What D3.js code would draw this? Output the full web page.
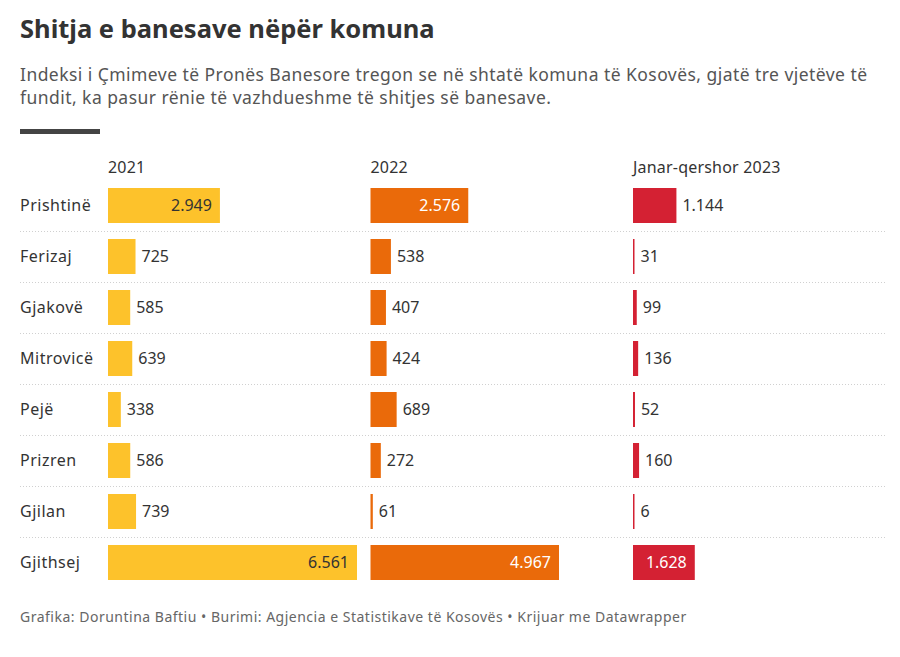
<!DOCTYPE html>
<html>
<head>
<meta charset="utf-8">
<script src="https://cdn.jsdelivr.net/npm/d3@7"></script>
<style>
    body { margin: 0; background: #fff; }
    svg { font-family: "Noto Sans", sans-serif; }
</style>
</head>
<body>
<div id="chart"></div>
<script>
// data
const komunat = ["Prishtinë", "Ferizaj", "Gjakovë", "Mitrovicë", "Pejë", "Prizren", "Gjilan", "Gjithsej"];
const periudhat = ["2021", "2022", "Janar-qershor 2023"];
const shitje2021 = [2949, 725, 585, 639, 338, 586, 739, 6561];
const shitje2022 = [2576, 538, 407, 424, 689, 272, 61, 4967];
const shitje2023 = [1144, 31, 99, 136, 52, 160, 6, 1628];
const ngjyrat = ["#fdc22b", "#ea6a0a", "#d42133"];
const ngjyraTekstit = ["#333333", "#ffffff", "#ffffff"];

const width = 900, height = 657;

const svg = d3.select('#chart')
    .append('svg')
    .attr('width', width)
    .attr('height', height);

// titles
svg.append('text')
    .attr('x', 20).attr('y', 38)
    .style('font-size', '25.5px').style('font-weight', 'bold')
    .style('fill', '#333')
    .text('Shitja e banesave nëpër komuna');

const subtitle = [
    'Indeksi i Çmimeve të Pronës Banesore tregon se në shtatë komuna të Kosovës, gjatë tre vjetëve të',
    'fundit, ka pasur rënie të vazhdueshme të shitjes së banesave.'
];
svg.selectAll('.sub')
    .data(subtitle)
    .enter().append('text')
    .attr('class', 'sub')
    .attr('x', 20)
    .attr('y', (d, i) => 81 + i * 23)
    .style('font-size', '17.5px')
    .style('letter-spacing', '0.45px')
    .style('fill', '#555')
    .text(d => d);

svg.append('rect')
    .attr('x', 20).attr('y', 129)
    .attr('width', 80).attr('height', 5)
    .style('fill', '#444');

// scales
const yScale = d3.scaleBand()
    .domain(komunat)
    .range([180, 588])
    .paddingInner(16 / 51)
    .paddingOuter(8 / 51);

const colScale = d3.scaleBand()
    .domain(periudhat)
    .range([108, 108 + 3 * 262.5]);

const xScale = d3.scaleLinear()
    .domain([0, d3.max(shitje2021)])
    .range([0, 249]);

const fmt = d3.formatLocale({ decimal: ",", thousands: ".", grouping: [3], currency: ["", "€"] }).format(",d");

// dotted separators
svg.selectAll('.sep')
    .data(komunat.slice(1))
    .enter().append('line')
    .attr('class', 'sep')
    .attr('x1', 20).attr('x2', 886)
    .attr('y1', d => yScale(d) - 8 + 0.5)
    .attr('y2', d => yScale(d) - 8 + 0.5)
    .style('stroke', '#d0d0d0')
    .style('stroke-dasharray', '1,2');

// row labels
svg.selectAll('.rowLabel')
    .data(komunat)
    .enter().append('text')
    .attr('class', 'rowLabel')
    .attr('x', 20)
    .attr('y', d => yScale(d) + yScale.bandwidth() / 2)
    .attr('dy', '0.35em')
    .style('font-size', '16px')
    .style('letter-spacing', '0.5px')
    .style('fill', '#333')
    .text(d => d);

// column headers
svg.selectAll('.colHead')
    .data(periudhat)
    .enter().append('text')
    .attr('class', 'colHead')
    .attr('x', d => colScale(d))
    .attr('y', 173)
    .style('font-size', '16px')
    .style('letter-spacing', '0.2px')
    .style('fill', '#333')
    .text(d => d);

const seri = [shitje2021, shitje2022, shitje2023];

seri.forEach(function (values, c) {
    const x0 = colScale(periudhat[c]);
    const g = svg.append('g');
    const rows = values.map((v, i) => ({ komuna: komunat[i], value: v }));

    g.selectAll('rect')
        .data(rows)
        .enter().append('rect')
        .attr('x', x0)
        .attr('y', d => yScale(d.komuna))
        .attr('width', d => Math.max(1.5, xScale(d.value)))
        .attr('height', yScale.bandwidth())
        .style('fill', ngjyrat[c]);

    g.selectAll('text')
        .data(rows)
        .enter().append('text')
        .attr('y', d => yScale(d.komuna) + yScale.bandwidth() / 2)
        .attr('dy', '0.35em')
        .style('font-size', '16px')
        .text(d => fmt(d.value))
        .each(function (d) {
            const w = this.getComputedTextLength();
            const bw = xScale(d.value);
            const el = d3.select(this);
            if (bw > w + 16) {
                el.attr('x', x0 + bw - 8)
                    .attr('text-anchor', 'end')
                    .style('fill', ngjyraTekstit[c]);
            } else {
                el.attr('x', x0 + Math.max(1.5, bw) + 6)
                    .style('fill', '#333');
            }
        });
});

// footer
svg.append('text')
    .attr('x', 20).attr('y', 622)
    .style('font-size', '14px')
    .style('letter-spacing', '0.5px')
    .style('fill', '#666')
    .text('Grafika: Doruntina Baftiu • Burimi: Agjencia e Statistikave të Kosovës • Krijuar me Datawrapper');
</script>
</body>
</html>
